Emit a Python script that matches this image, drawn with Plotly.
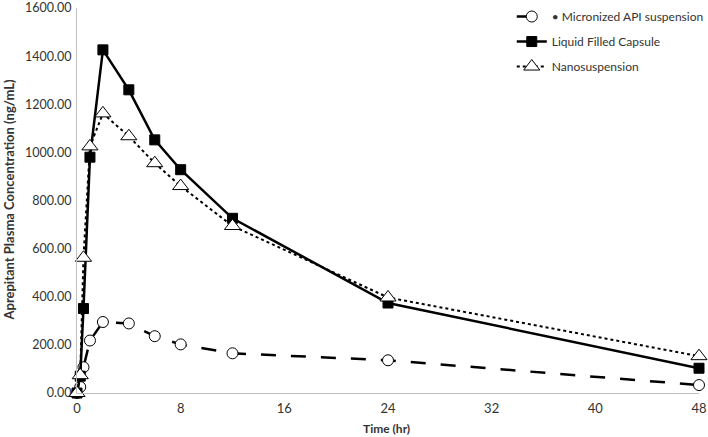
import plotly.graph_objects as go

time_hr = [0, 0.25, 0.5, 1, 2, 4, 6, 8, 12, 24, 48]
micronized = [0, 25, 107, 218, 295, 289, 236, 202, 165, 136, 33]
capsule = [0, 70, 351, 980, 1426, 1260, 1052, 928, 726, 374, 103]
nano = [0, 74, 562, 1025, 1162, 1067, 955, 860, 694, 397, 153]

x_ticks = [0, 8, 16, 24, 32, 40, 48]
y_ticks = [0, 200, 400, 600, 800, 1000, 1200, 1400, 1600]

x_title = "<b>Time (hr)</b>"
y_title = "<b>Aprepitant Plasma Concentration (ng/mL)</b>"

FONT = "Lato, 'Open Sans', sans-serif"
TXT = "#333333"

fig = go.Figure()
fig.add_trace(go.Scatter(
    x=time_hr, y=micronized, name="• Micronized API suspension", legendgroup="a",
    mode="lines+markers", cliponaxis=False,
    line=dict(color="black", width=2.5, dash="longdash"),
    marker=dict(symbol="circle", size=11, color="white", line=dict(color="black", width=1)),
))
fig.add_trace(go.Scatter(
    x=time_hr, y=capsule, name="Liquid Filled Capsule", legendgroup="b",
    mode="lines+markers", cliponaxis=False,
    line=dict(color="black", width=2.5),
    marker=dict(symbol="square", size=10, color="black", line=dict(color="black", width=1)),
))
fig.add_trace(go.Scatter(
    x=time_hr, y=nano, name="Nanosuspension", legendgroup="c",
    mode="lines+markers", cliponaxis=False,
    line=dict(color="black", width=2, dash="dot"),
    marker=dict(symbol="triangle-up", size=14, color="white", line=dict(color="black", width=1)),
))

fig.update_layout(
    width=708, height=437,
    margin=dict(l=77, r=9, t=8, b=44, autoexpand=False),
    paper_bgcolor="white", plot_bgcolor="white",
    font=dict(family=FONT, size=12, color=TXT),
    legend=dict(x=0.699, y=1.0155, xanchor="left", yanchor="top",
                bgcolor="rgba(0,0,0,0)", font=dict(size=12, color=TXT),
                tracegroupgap=6),
    showlegend=True,
)
fig.add_annotation(text=x_title, xref="paper", yref="paper", x=0.498, y=-0.091,
                   xanchor="center", yanchor="middle", showarrow=False,
                   font=dict(size=12, color=TXT))
fig.add_annotation(text=y_title, xref="paper", yref="paper", x=-0.1109, y=0.5,
                   xanchor="center", yanchor="middle", showarrow=False, textangle=-90,
                   font=dict(size=13, color=TXT))
fig.update_xaxes(
    range=[0, 48], tickvals=x_ticks, ticktext=[str(v) for v in x_ticks],
    showgrid=False, zeroline=False, showline=True, linecolor="#bfbfbf", linewidth=1,
    ticks="", tickfont=dict(size=13, color=TXT), automargin=False, ticklabelstandoff=3,
    ticklabeloverflow="allow",
)
fig.update_yaxes(
    range=[0, 1600], tickvals=y_ticks, tickformat=".2f",
    showgrid=False, zeroline=False, showline=True, linecolor="#bfbfbf", linewidth=1,
    ticks="", tickfont=dict(size=12.5, color=TXT), automargin=False, ticklabelstandoff=2,
    ticklabeloverflow="allow",
)

fig.write_html("out.html", config={"displayModeBar": False},
               post_script="document.body.style.margin='0';")
